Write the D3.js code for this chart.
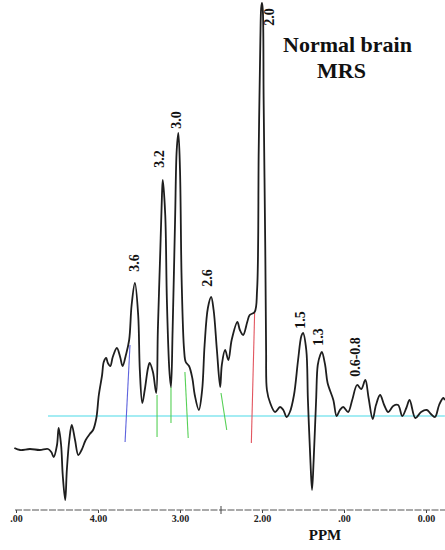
<!DOCTYPE html>
<html>
<head>
<meta charset="utf-8">
<script src="https://cdn.jsdelivr.net/npm/d3@7"></script>
<style>
  body { margin: 0; background: #fff; }
  text { font-family: 'Liberation Serif', 'DejaVu Serif', serif; font-weight: bold; }
</style>
</head>
<body>
<script>
var width = 445;
var height = 550;

// spectrum trace: chemical shift (ppm) and signal amplitude (baseline = 0)
var spectrumPpm = [5.02, 4.95, 4.83, 4.71, 4.61, 4.57, 4.54, 4.50, 4.48, 4.45, 4.43, 4.40, 4.38, 4.35, 4.32, 4.28, 4.24, 4.20, 4.15, 4.10,
  4.06, 4.02, 3.99, 3.95, 3.93, 3.90, 3.88, 3.85, 3.82, 3.77, 3.73, 3.70, 3.66, 3.62, 3.59, 3.55, 3.51, 3.49, 3.46, 3.43,
  3.39, 3.37, 3.33, 3.29, 3.27, 3.24, 3.22, 3.21, 3.18, 3.16, 3.13, 3.11, 3.09, 3.06, 3.04, 3.02, 3.00, 2.98, 2.95, 2.93,
  2.89, 2.85, 2.82, 2.77, 2.73, 2.70, 2.66, 2.62, 2.59, 2.55, 2.51, 2.49, 2.45, 2.41, 2.37, 2.30, 2.27, 2.23, 2.18, 2.15,
  2.09, 2.06, 2.04, 2.02, 2.01, 2.00, 1.99, 1.98, 1.96, 1.95, 1.94, 1.90, 1.84, 1.78, 1.74, 1.70, 1.66, 1.61, 1.56, 1.52,
  1.50, 1.46, 1.44, 1.41, 1.39, 1.37, 1.34, 1.32, 1.29, 1.27, 1.23, 1.20, 1.13, 1.09, 1.05, 1.01, 0.95, 0.90, 0.84, 0.79,
  0.74, 0.70, 0.65, 0.61, 0.56, 0.51, 0.46, 0.40, 0.34, 0.29, 0.24, 0.20, 0.13, 0.06, -0.01, -0.06, -0.11, -0.16, -0.21, -0.23];
var spectrumAmp = [-32, -34, -33, -34, -33, -36, -41, -29, -12, -29, -59, -84, -54, -24, -9, -24, -39, -34, -24, -18,
  -14, -2, 21, 41, 54, 58, 53, 50, 59, 68, 59, 50, 61, 76, 111, 133, 101, 46, 13, 26,
  48, 53, 44, 23, 86, 166, 221, 236, 201, 116, 46, 29, 86, 196, 266, 283, 246, 136, 66, 54,
  50, 38, 21, 6, 26, 71, 108, 119, 106, 66, 29, 51, 66, 56, 76, 94, 86, 81, 94, 101,
  104, 126, 266, 376, 408, 413, 406, 316, 166, 66, 26, 13, 4, 9, 6, -1, 4, 21, 56, 80,
  83, 66, 16, -44, -74, -44, 16, 51, 61, 64, 51, 33, 16, 0, 6, 9, 4, 16, 31, 27,
  36, 18, -3, 11, 21, 11, 4, 10, 11, 0, 8, 16, -2, 4, 6, 2, -1, 11, 18, 16];

// peak labels
var peakLabels = ['3.6', '3.2', '3.0', '2.6', '2.0', '1.5', '1.3', '0.6-0.8'];
var peakLabelPpm = [3.56, 3.26, 3.05, 2.67, 1.91, 1.54, 1.31, 0.87];
var peakLabelAmp = [153, 257, 296, 138, 399, 96, 79, 59];

// assignment markers (top and bottom ends)
var markerColors = ['#5d62dd', '#55d055', '#55d055', '#55d055', '#55d055', '#e2555f'];
var markerPpmTop = [3.61, 3.28, 3.11, 2.94, 2.50, 2.09];
var markerAmpTop = [71, 21, 29, 44, 23, 103];
var markerPpmBottom = [3.67, 3.28, 3.11, 2.90, 2.43, 2.13];
var markerAmpBottom = [-26, -21, -7, -22, -14, -27];

// baseline and axis
var baselinePpm = [4.61, -0.23];
var tickValues = [5, 4, 3, 2, 1, 0];
var tickLabels = ['.00', '4.00', '3.00', '2.00', '.00', '0.00'];

var svg = d3.select('body')
            .append('svg')
            .attr('width', width)
            .attr('height', height);

var xScale = d3.scaleLinear()
               .domain([5, 0])
               .range([16, 426]);
var yScale = d3.scaleLinear()
               .domain([0, 400])
               .range([416, 16]);

var spectrum = spectrumPpm.map(function (p, i) { return [p, spectrumAmp[i]]; });

// baseline
svg.append('line')
   .attr('x1', xScale(baselinePpm[0]))
   .attr('x2', xScale(baselinePpm[1]))
   .attr('y1', yScale(0))
   .attr('y2', yScale(0))
   .attr('stroke', '#86e6ef')
   .attr('stroke-width', 1.3);

// colored assignment lines
svg.selectAll('.marker')
   .data(markerColors)
   .enter()
   .append('line')
   .attr('class', 'marker')
   .attr('x1', function (d, i) { return xScale(markerPpmTop[i]); })
   .attr('y1', function (d, i) { return yScale(markerAmpTop[i]); })
   .attr('x2', function (d, i) { return xScale(markerPpmBottom[i]); })
   .attr('y2', function (d, i) { return yScale(markerAmpBottom[i]); })
   .attr('stroke', function (d) { return d; })
   .attr('stroke-width', 1.1);

var line = d3.line()
             .x(function (d) { return xScale(d[0]); })
             .y(function (d) { return yScale(d[1]); })
             .curve(d3.curveCatmullRom.alpha(0.5));

svg.append('path')
   .datum(spectrum)
   .attr('d', line)
   .attr('fill', 'none')
   .attr('stroke', '#1e1e1e')
   .attr('stroke-width', 1.8)
   .attr('stroke-linejoin', 'round');

// peak labels, rotated
svg.selectAll('.peak')
   .data(peakLabels)
   .enter()
   .append('text')
   .attr('class', 'peak')
   .attr('transform', function (d, i) {
       return 'translate(' + xScale(peakLabelPpm[i]) + ',' + yScale(peakLabelAmp[i]) + ') rotate(-90)';
   })
   .attr('text-anchor', 'middle')
   .attr('dy', '0.35em')
   .attr('font-size', 14)
   .attr('fill', '#111')
   .text(function (d) { return d; });

// x axis
var xAxis = d3.axisBottom(xScale)
              .tickValues(tickValues)
              .tickSize(3)
              .tickPadding(2)
              .tickFormat(function (d, i) { return tickLabels[i]; });

var axisY = yScale(-94);
var gAxis = svg.append('g')
               .attr('transform', 'translate(0,' + axisY + ')')
               .call(xAxis);
gAxis.select('.domain').remove();
gAxis.selectAll('text')
     .attr('font-size', 10)
     .attr('font-family', 'Liberation Serif')
     .attr('fill', '#222');
gAxis.selectAll('.tick line').attr('stroke', '#444');

gAxis.append('line')
     .attr('x1', 15)
     .attr('x2', width)
     .attr('y1', 0)
     .attr('y2', 0)
     .attr('stroke', '#555')
     .attr('stroke-width', 1.2)
     .attr('stroke-dasharray', '7,1.5');

gAxis.append('line')
     .attr('x1', xScale(2.5))
     .attr('x2', xScale(2.5))
     .attr('y1', -4)
     .attr('y2', 4)
     .attr('stroke', '#444');

svg.append('text')
   .attr('x', 325)
   .attr('y', 540)
   .attr('text-anchor', 'middle')
   .attr('font-size', 15)
   .attr('fill', '#111')
   .text('PPM');

// title
svg.append('text')
   .attr('x', 283)
   .attr('y', 52)
   .attr('font-size', 22)
   .attr('fill', '#111')
   .text('Normal brain');
svg.append('text')
   .attr('x', 317)
   .attr('y', 78)
   .attr('font-size', 22)
   .attr('fill', '#111')
   .text('MRS');
</script>
</body>
</html>
